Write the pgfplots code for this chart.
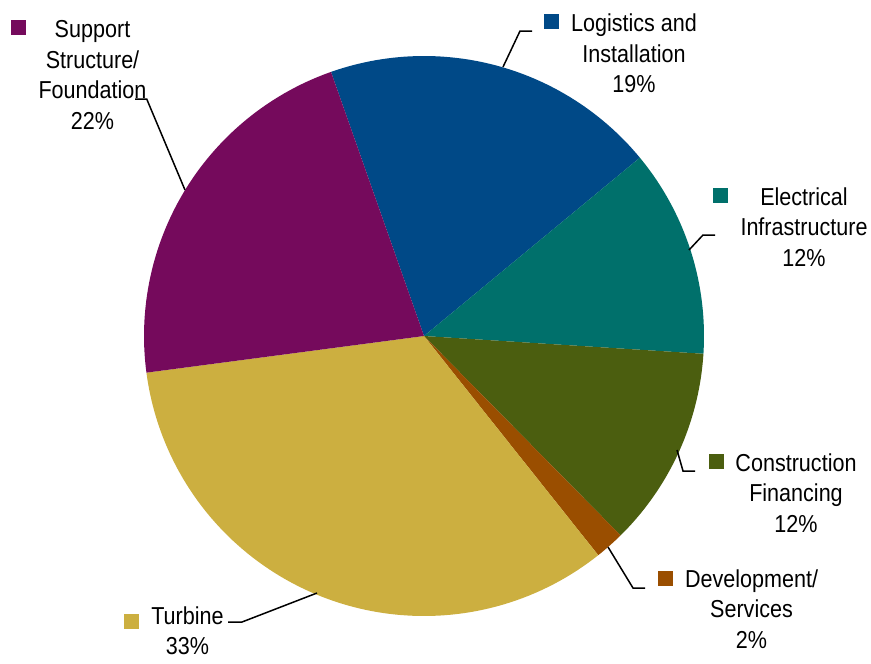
\documentclass[border=0pt]{standalone}
\usepackage{pgfplots}
\pgfplotsset{compat=1.18}
\usepackage{fontspec}
\setmainfont{Liberation Sans}
\usepackage{graphicx}
\definecolor{cSup}{HTML}{750A5C}
\definecolor{cLog}{HTML}{004987}
\definecolor{cEle}{HTML}{00706B}
\definecolor{cCon}{HTML}{4B5E0F}
\definecolor{cDev}{HTML}{9A4E00}
\definecolor{cTur}{HTML}{CCAF40}
\newcommand\lbl[1]{\scalebox{0.88}[1]{\fontsize{12.25pt}{15.25pt}\selectfont\begin{tabular}[t]{@{}c@{}}#1\end{tabular}}}
% shares (%): Support 21.7, Logistics 19.4, Electrical 12.0, Construction 11.6, Development 1.7, Turbine 33.6
% wedge angles = share*3.6 deg, clockwise from 109.4 deg
\begin{document}
\begin{tikzpicture}
\begin{axis}[width=435.5pt,height=328pt,scale only axis,
  xmin=0,xmax=871,ymin=0,ymax=656,hide axis,clip=false]
\addplot[draw=none,forget plot] coordinates {(0,0) (871,0) (871,656) (0,656)};
\addplot[fill=cLog,draw=none,domain=39.56:109.4,samples=60] ({424+280*cos(x)},{320+280*sin(x)}) -- (axis cs:424,320) -- cycle;
\addplot[fill=cEle,draw=none,domain=-3.64:39.56,samples=40] ({424+280*cos(x)},{320+280*sin(x)}) -- (axis cs:424,320) -- cycle;
\addplot[fill=cCon,draw=none,domain=-45.4:-3.64,samples=40] ({424+280*cos(x)},{320+280*sin(x)}) -- (axis cs:424,320) -- cycle;
\addplot[fill=cDev,draw=none,domain=-51.52:-45.4,samples=10] ({424+280*cos(x)},{320+280*sin(x)}) -- (axis cs:424,320) -- cycle;
\addplot[fill=cTur,draw=none,domain=-172.48:-51.52,samples=90] ({424+280*cos(x)},{320+280*sin(x)}) -- (axis cs:424,320) -- cycle;
\addplot[fill=cSup,draw=none,domain=109.4:187.52,samples=60] ({424+280*cos(x)},{320+280*sin(x)}) -- (axis cs:424,320) -- cycle;
% leader lines
\addplot[black,line width=0.75pt] coordinates {(135,557) (146.7,557) (185,466)};
\addplot[black,line width=0.75pt] coordinates {(532,625) (520,625) (503,589)};
\addplot[black,line width=0.75pt] coordinates {(715,421) (703,421) (689,406)};
\addplot[black,line width=0.75pt] coordinates {(695,185) (683,185) (677,206)};
\addplot[black,line width=0.75pt] coordinates {(608,109) (633,68) (645,68)};
\addplot[black,line width=0.75pt] coordinates {(317,63) (242,34) (228,34)};
% label squares
\addplot[only marks,mark=square*,mark size=3.5pt,color=cSup] coordinates {(18,628.5)};
\addplot[only marks,mark=square*,mark size=3.5pt,color=cLog] coordinates {(551,635)};
\addplot[only marks,mark=square*,mark size=3.5pt,color=cEle] coordinates {(720,461)};
\addplot[only marks,mark=square*,mark size=3.5pt,color=cCon] coordinates {(716,194.5)};
\addplot[only marks,mark=square*,mark size=3.5pt,color=cDev] coordinates {(665,77.5)};
\addplot[only marks,mark=square*,mark size=3.5pt,color=cTur] coordinates {(131,34.5)};
% labels
\node[anchor=base,inner sep=0pt] at (axis cs:92.5,618.3) {\lbl{Support\\Structure/\\Foundation\\22\%}};
\node[anchor=base,inner sep=0pt] at (axis cs:634,624.3) {\lbl{Logistics and\\Installation\\19\%}};
\node[anchor=base,inner sep=0pt] at (axis cs:804,451) {\lbl{Electrical\\Infrastructure\\12\%}};
\node[anchor=base,inner sep=0pt] at (axis cs:796,185) {\lbl{Construction\\Financing\\12\%}};
\node[anchor=base,inner sep=0pt] at (axis cs:751.5,69) {\lbl{Development/\\Services\\2\%}};
\node[anchor=base,inner sep=0pt] at (axis cs:187.5,32) {\lbl{Turbine\\33\%}};
\end{axis}
\end{tikzpicture}
\end{document}
